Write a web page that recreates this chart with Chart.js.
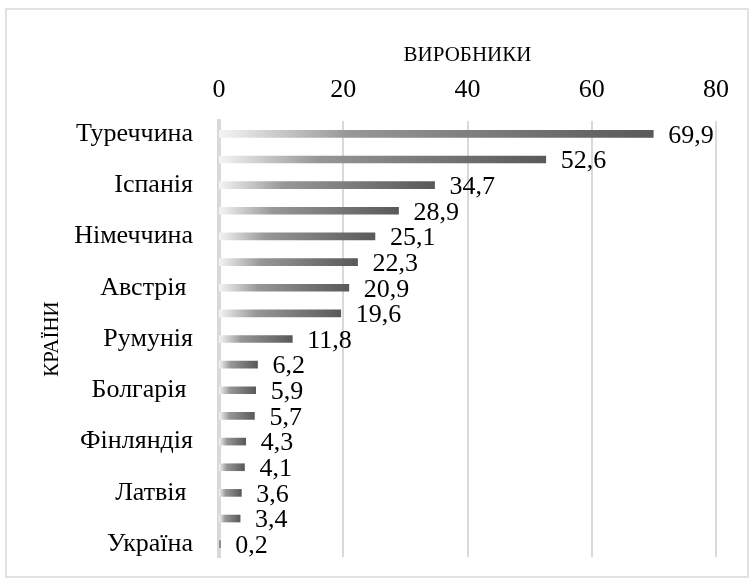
<!DOCTYPE html>
<html>
<head>
<meta charset="utf-8">
<script src="https://cdn.jsdelivr.net/npm/chart.js@4.4.1/dist/chart.umd.min.js"></script>
<style>
  html, body { margin: 0; padding: 0; background: #fff; }
  #wrap { position: relative; width: 754px; height: 582px; }
</style>
</head>
<body>
<div id="wrap"><canvas id="c" width="754" height="582"></canvas></div>
<script>
const categories = ["Туреччина", "", "Іспанія", "", "Німеччина", "", "Австрія ", "", "Румунія", "", "Болгарія ", "", "Фінляндія", "", "Латвія ", "", "Україна"];
const values = [69.9, 52.6, 34.7, 28.9, 25.1, 22.3, 20.9, 19.6, 11.8, 6.2, 5.9, 5.7, 4.3, 4.1, 3.6, 3.4, 0.2];
const xTicks = [0, 20, 40, 60, 80];
const xTitle = "ВИРОБНИКИ";
const yTitle = "КРАЇНИ";

const FONT = "'Liberation Serif', 'Times New Roman', serif";

const borderPlugin = {
  id: 'outerBorder',
  beforeDraw(chart) {
    const c = chart.ctx;
    c.save();
    c.fillStyle = '#fff';
    c.fillRect(0, 0, chart.width, chart.height);
    c.strokeStyle = '#d9d9d9';
    c.lineWidth = 1.5;
    c.strokeRect(6, 9, 742, 568);
    c.restore();
  }
};

const labelPlugin = {
  id: 'valueLabels',
  afterDatasetsDraw(chart) {
    const c = chart.ctx;
    const meta = chart.getDatasetMeta(0);
    c.save();
    c.font = "26px " + FONT;
    c.fillStyle = '#000';
    c.textAlign = 'left';
    c.textBaseline = 'middle';
    meta.data.forEach((bar, i) => {
      const txt = String(values[i]).replace('.', ',');
      c.fillText(txt, bar.x + 15, bar.y + 2);
    });
    c.restore();
  }
};

function barGradient(ctx) {
  const chart = ctx.chart;
  const xs = chart.scales.x;
  if (!xs || ctx.type !== 'data') return '#808080';
  const x0 = xs.getPixelForValue(0);
  const x1 = xs.getPixelForValue(values[ctx.dataIndex]);
  if (!isFinite(x0) || !isFinite(x1) || x1 - x0 < 1) return '#d0d0d0';
  const g = chart.ctx.createLinearGradient(x0, 0, x1, 0);
  g.addColorStop(0, '#f4f4f4');
  g.addColorStop(0.3, '#979797');
  g.addColorStop(1, '#595959');
  return g;
}

function zeroPad(scale) {
  scale.paddingTop = 0;
  scale.paddingBottom = 0;
  scale.paddingLeft = 0;
  scale.paddingRight = 0;
}

new Chart(document.getElementById('c'), {
  type: 'bar',
  data: {
    labels: categories,
    datasets: [{
      data: values,
      backgroundColor: barGradient,
      borderWidth: 0,
      barThickness: 7
    }]
  },
  plugins: [borderPlugin, labelPlugin],
  options: {
    indexAxis: 'y',
    responsive: false,
    animation: false,
    devicePixelRatio: 1,
    layout: { padding: { left: 0, right: 38, top: 20, bottom: 25 } },
    plugins: {
      legend: { display: false },
      tooltip: { enabled: false }
    },
    scales: {
      x: {
        position: 'top',
        min: 0,
        max: 80,
        afterBuildTicks(scale) { scale.ticks = xTicks.map(v => ({ value: v })); },
        afterFit(scale) { scale.height = 101; zeroPad(scale); },
        ticks: {
          color: '#000',
          padding: 15,
          font: { family: FONT, size: 26 },
          callback: (v) => String(v)
        },
        grid: {
          color: '#d9d9d9',
          lineWidth: (ctx) => ctx.index === 0 ? 0 : 2,
          drawTicks: false
        },
        border: { display: false },
        title: {
          display: true,
          text: xTitle,
          color: '#000',
          font: { family: FONT, size: 21 },
          padding: { top: 23, bottom: 0 }
        }
      },
      y: {
        afterFit(scale) { scale.width = 219; zeroPad(scale); },
        ticks: {
          color: '#000',
          padding: 26,
          autoSkip: false,
          font: { family: FONT, size: 26 }
        },
        grid: { display: false, drawTicks: false },
        border: { display: true, color: '#d9d9d9', width: 4 },
        title: {
          display: true,
          text: yTitle,
          color: '#000',
          font: { family: FONT, size: 21 },
          padding: { top: 40, bottom: 0 }
        }
      }
    }
  }
});
</script>
</body>
</html>
